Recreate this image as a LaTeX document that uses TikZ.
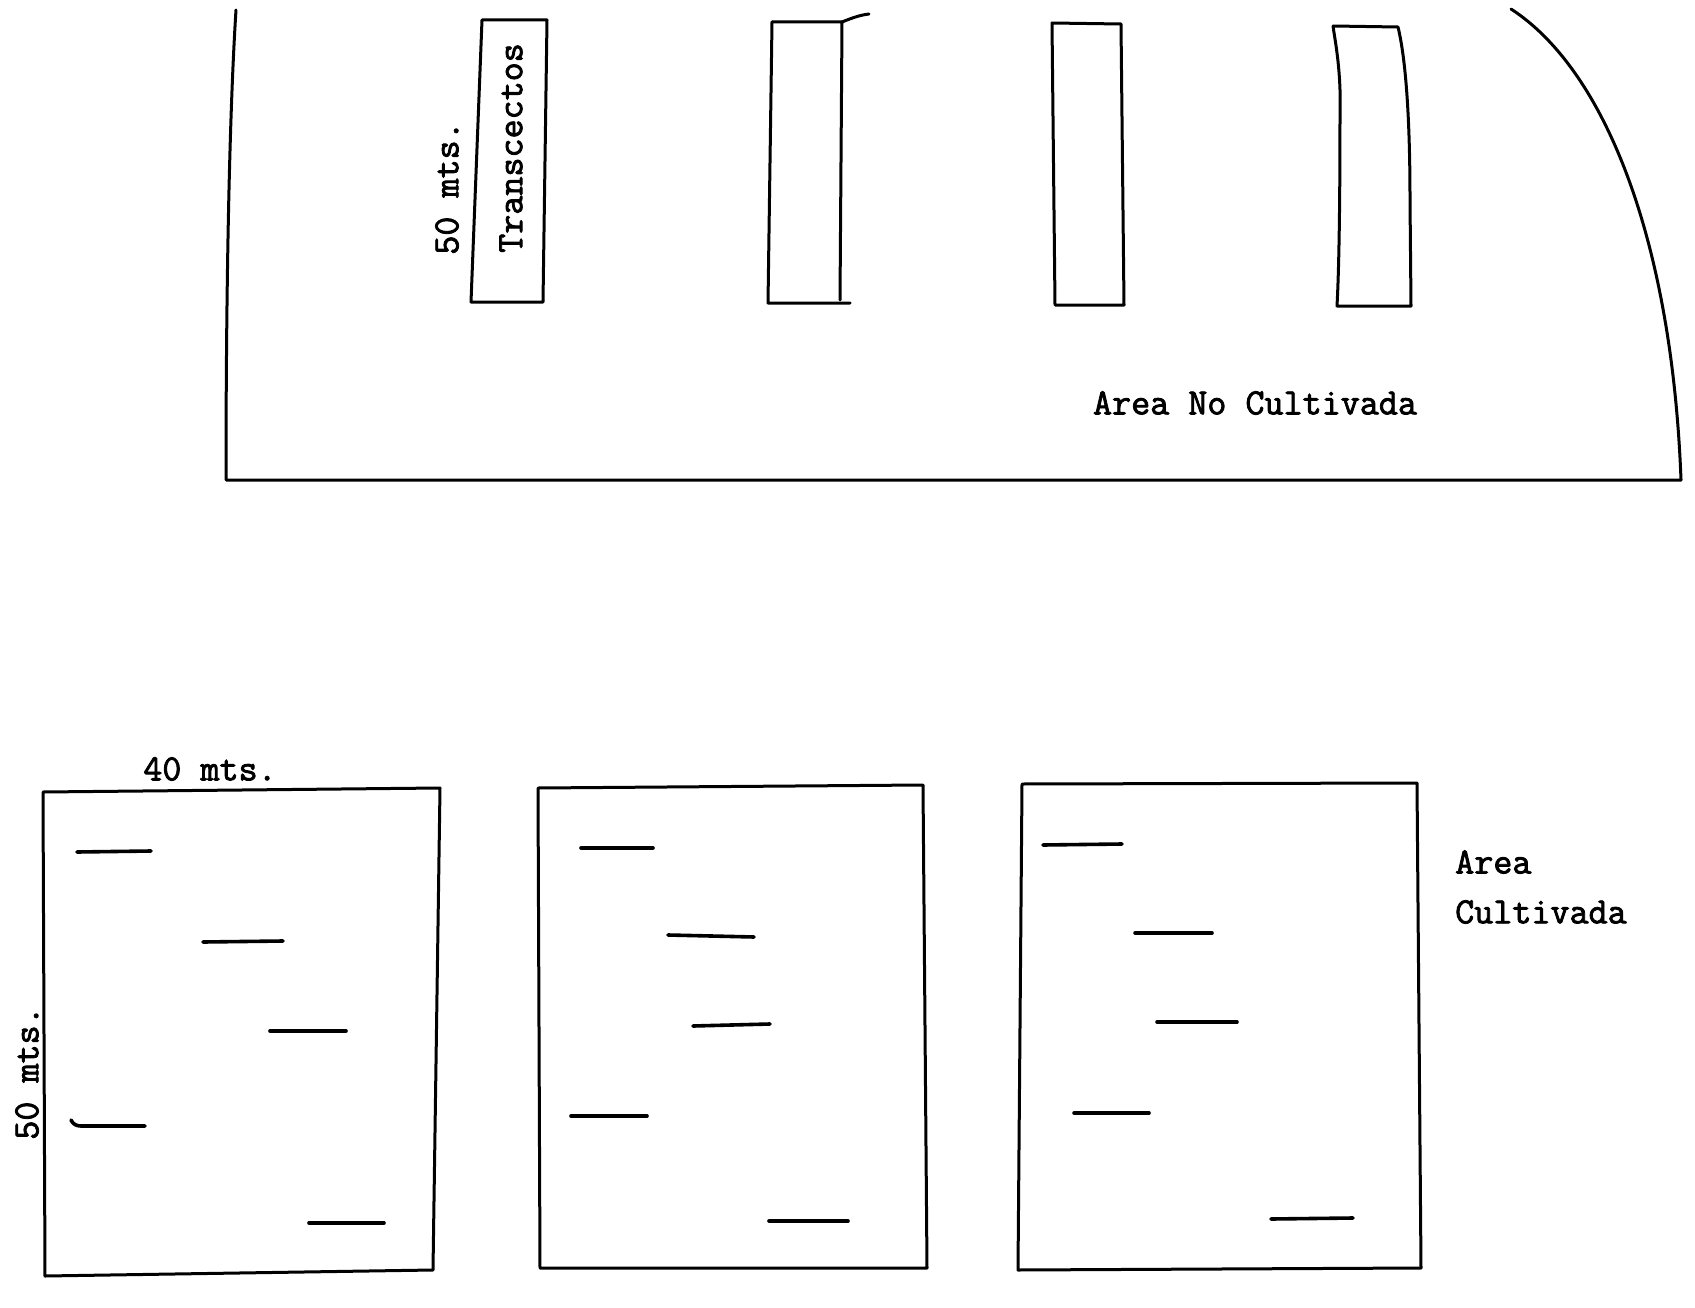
\documentclass[tikz,border=0pt]{standalone}
\usepackage{fontspec}
\newfontfamily\tw{Latin Modern Mono}[FakeBold=2.2]
\begin{document}
\begin{tikzpicture}[x=1pt,y=-1pt,
  edge/.style={line width=3pt,line cap=round,line join=round},
  tline/.style={line width=3.6pt,line cap=round},
  lbl/.style={font=\tw\fontsize{37}{40}\selectfont,inner sep=0pt}]
\useasboundingbox[fill=white] (0,0) rectangle (1695,1308);
% ---- Area No Cultivada: outer boundary
\draw[edge] (236,10) .. controls (229,120) and (226,300) .. (226,480) -- (1681,480);
\draw[edge] (1511,9) .. controls (1605,70) and (1672,240) .. (1681,480);
% ---- transects (top)
\draw[edge] (482,20) -- (547,20) -- (543,302) -- (471,302) -- cycle;
\draw[edge] (772,22) -- (842,22) -- (840,300);
\draw[edge] (772,22) -- (768,303) -- (850,303);
\draw[edge] (842,22) .. controls (852,18) and (860,15) .. (869,14);
\draw[edge] (1052,23) -- (1121,24) -- (1124,305) -- (1055,305) -- cycle;
\draw[edge] (1333,26) -- (1398,27) .. controls (1406,60) and (1410,120) .. (1410,200)
  -- (1411,306) -- (1337,306) .. controls (1340,250) and (1340,150) .. (1340,90)
  .. controls (1339,60) and (1335,40) .. (1333,26);
\node[lbl,rotate=90] (m50a) at (447,188) {50 mts.};
\node[lbl,rotate=90] (tra) at (511,148) {Transcectos};
\node[lbl] (anc) at (1255,403) {Area No Cultivada};
% ---- Area Cultivada: plots
\draw[edge] (43,792) -- (440,788) -- (433,1270) -- (45,1276) -- cycle;
\draw[edge] (538,788) -- (923,785) -- (927,1268) -- (540,1268) -- cycle;
\draw[edge] (1022,784) -- (1417,783) -- (1421,1268) -- (1018,1270) -- cycle;
% plot 1 lines
\draw[tline] (77,852) -- (151,851);
\draw[tline] (203,942) -- (283,941);
\draw[tline] (270,1031) -- (346,1031);
\draw[tline] (71,1120) .. controls (73,1124) and (76,1126) .. (81,1126) -- (145,1126);
\draw[tline] (309,1223) -- (384,1223);
% plot 2 lines
\draw[tline] (581,848) -- (653,848);
\draw[tline] (668,935) -- (754,937);
\draw[tline] (693,1026) -- (770,1024);
\draw[tline] (571,1116) -- (647,1116);
\draw[tline] (769,1221) -- (848,1221);
% plot 3 lines
\draw[tline] (1043,845) -- (1122,844);
\draw[tline] (1135,933) -- (1212,933);
\draw[tline] (1157,1022) -- (1237,1022);
\draw[tline] (1074,1113) -- (1149,1113);
\draw[tline] (1271,1219) -- (1353,1218);
\node[lbl] (m40) at (210,769) {40 mts.};
\node[lbl,rotate=90] (m50b) at (27,1073) {50 mts.};
\node[lbl,anchor=west] (ar) at (1455,862) {Area};
\node[lbl,anchor=west] (cu) at (1455,912) {Cultivada};
\end{tikzpicture}
\end{document}
